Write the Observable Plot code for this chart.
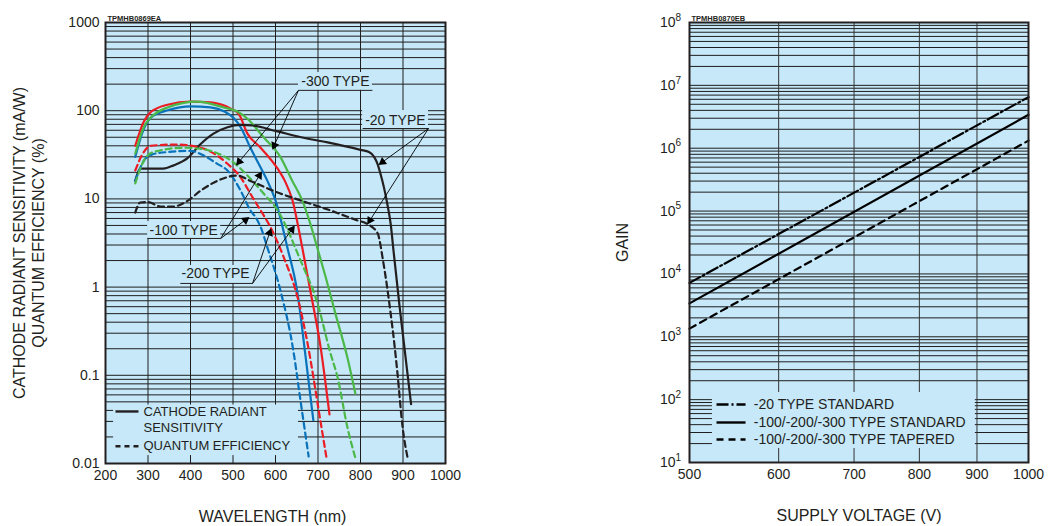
<!DOCTYPE html>
<html><head><meta charset="utf-8">
<script src="https://cdn.jsdelivr.net/npm/d3@7"></script>
<script src="https://cdn.jsdelivr.net/npm/@observablehq/plot@0.6"></script>
<style>
body{margin:0;background:#fff;font-family:"Liberation Sans",Arial,sans-serif}
#wrap{display:flex;width:1050px;height:526px}
#wrap>div{width:525px;height:526px}
</style></head><body><div id="wrap"><div id="left"></div><div id="right"></div></div>
<script>
// ---------- LEFT CHART DATA (wavelength nm, value) ----------
const crs100 = [[270,30],[290,62],[310,86],[346,101],[400,112],[447,109],[480,98],[501,83],[518,65],[541,38],[565,22.7],[581,16],[600,9.6],[628,2.8],[651,0.9],[671,0.16],[689,0.031]];
const crs200 = [[270,40],[290,75],[306,96],[346,117],[400,127],[447,124],[494,106],[513,93],[534,55],[565,38],[605,22],[622,16],[640,9.6],[663,2.8],[682,0.91],[706,0.21],[727,0.036]];
const crs300 = [[270,32.7],[290,65],[306,83],[346,109],[416,127],[478,109],[510,98],[534,81],[572,50],[612,29.6],[639,16.2],[663,9.6],[682,5.2],[698,2.83],[718,1.3],[741,0.5],[769,0.16],[788,0.062]];
const crs20  = [[270,16],[282,22],[336,22],[360,24],[393,29],[424,42],[454,55],[487,65],[518,69],[545,68],[600,59],[660,50],[720,44],[800,36],[820,34],[832,30],[840,25],[847,19.3],[855,13.6],[863,8.8],[871,5.2],[878,2.5],[892,0.6],[919,0.047]];
const qe100 = [[270,16],[290,27],[310,32],[346,34],[400,35],[431,31],[463,25],[487,21],[518,12.4],[541,7.4],[553,6.2],[565,4.8],[581,2.8],[612,0.9],[642,0.19],[659,0.051],[678,0.012]];
const qe200 = [[270,21],[290,34],[306,40],[369,41.4],[424,38],[463,31],[487,25],[518,17.5],[546,10.4],[565,7.4],[588,4.8],[619,2.2],[654,0.7],[674,0.25],[708,0.026],[720,0.0116]];
const qe300 = [[270,15],[290,27],[313,34],[384,38],[424,37],[463,33],[501,26],[534,18.4],[572,11.5],[605,7.4],[659,2],[699,0.65],[729,0.18],[746,0.095],[769,0.026],[788,0.0115]];
const qe20  = [[270,7],[282,9.1],[300,9.2],[329,8.2],[360,8.2],[393,9.5],[424,12.4],[463,16],[510,18.4],[541,16],[605,11.8],[659,9.6],[729,7.4],[793,5.7],[816,5.2],[840,4.1],[854,1.87],[871,0.5],[882,0.18],[887,0.105],[899,0.026],[911,0.0115]];

const wlTicks = [200,300,400,500,600,700,800,900,1000];
const sensTicks = [0.01,0.1,1,10,100,1000];
const sensTickLabels = ["0.01","0.1","1","10","100","1000"];

// ---------- RIGHT CHART DATA ----------
const voltage = [500,1000];
const gain20Std = [7.2e3, 6.5e6];
const gainStd = [3.4e3, 3.4e6];
const gainTapered = [1.35e3, 1.32e6];
const voltTicks = [500,600,700,800,900,1000];
const gainTicks = [1e1,1e2,1e3,1e4,1e5,1e6,1e7,1e8];
const gainExponents = ["1","2","3","4","5","6","7","8"];

// ---------- styles ----------
const BG = "#c6e8f8", GRID = "#1e1e1e", INK = "#231f20";
const RED = "#ec1c24", GREEN = "#4cb848", BLUE = "#0a72bb", BLACK = "#231f20";
const FONT = "'Liberation Sans', Arial, sans-serif";

const pts = a => a.map(([x,y]) => ({x, y}));
const logGrid = (n0, n1) => d3.range(n0, n1 + 1).flatMap(n => d3.range(1, 10).map(k => +(k * 10 ** n).toPrecision(3)));

// annotations for left chart (data coords)
const typeBoxes = [
  {x1:654,x2:828,y1:170,y2:271},
  {x1:805,x2:960,y1:62.8,y2:100.5},
  {x1:299,x2:471,y1:3.56,y2:5.54},
  {x1:376,x2:546,y1:1.1,y2:1.76},
  {x1:219,x2:654,y1:0.0123,y2:0.046}
];
const typeLabels = [
  {t:"-300 TYPE", x:741, y:214},
  {t:"-20 TYPE", x:882, y:77.5},
  {t:"-100 TYPE", x:384, y:4.38},
  {t:"-200 TYPE", x:459, y:1.43}
];
const underlines = [
  {x1:654,x2:828,y:170},
  {x1:805,x2:960,y:62.8},
  {x1:299,x2:471,y:3.56},
  {x1:376,x2:546,y:1.1}
];
const arrows = [
  {x1:654,y1:170,x2:511,y2:25.2},
  {x1:654,y1:170,x2:595,y2:38.3},
  {x1:960,y1:62.8,x2:847,y2:25.2},
  {x1:960,y1:62.8,x2:819,y2:5.4},
  {x1:471,y1:3.56,x2:565,y2:19.4},
  {x1:471,y1:3.56,x2:534,y2:6.0},
  {x1:546,y1:1.1,x2:588,y2:4.38},
  {x1:546,y1:1.1,x2:642,y2:4.74}
];

// same scales as the left plot, used to orient the filled arrowheads
const sx = Plot.scale({x: {domain: [200, 1000], range: [105, 445]}});
const sy = Plot.scale({y: {type: "log", domain: [0.01, 1000], range: [463, 22]}});
const heads = arrows.map(a => {
  const X1 = sx.apply(a.x1), Y1 = sy.apply(a.y1), X2 = sx.apply(a.x2), Y2 = sy.apply(a.y2);
  const t = Math.atan2(Y2 - Y1, X2 - X1);
  return {x: sx.invert(X2 - 2.5 * Math.cos(t)), y: sy.invert(Y2 - 2.5 * Math.sin(t)), rot: t * 180 / Math.PI + 90};
});

const series = [
  {d:crs100, c:BLUE, dash:null}, {d:crs200, c:RED, dash:null}, {d:crs300, c:GREEN, dash:null}, {d:crs20, c:BLACK, dash:null},
  {d:qe100, c:BLUE, dash:"6,4"}, {d:qe200, c:RED, dash:"6,4"}, {d:qe300, c:GREEN, dash:"6,4"}, {d:qe20, c:BLACK, dash:"6,4"}
];

const left = Plot.plot({
  width: 525, height: 526,
  marginLeft: 105, marginRight: 80, marginTop: 22, marginBottom: 63,
  style: {fontFamily: FONT, fontSize: "14px", background: "white", overflow: "visible", color: INK},
  x: {domain: [200, 1000]},
  y: {type: "log", domain: [0.01, 1000]},
  marks: [
    Plot.frame({fill: BG, stroke: null}),
    Plot.ruleY(logGrid(-2, 2), {stroke: GRID, strokeWidth: 1}),
    Plot.ruleX(wlTicks.slice(1, -1), {stroke: GRID, strokeWidth: 1}),
    Plot.rect(typeBoxes, {x1:"x1", x2:"x2", y1:"y1", y2:"y2", fill: BG}),
    ...series.map(s => Plot.line(pts(s.d), {x:"x", y:"y", stroke: s.c, strokeWidth: 2.2, strokeDasharray: s.dash, curve: "monotone-x"})),
    Plot.link(underlines, {x1:"x1", x2:"x2", y1:"y", y2:"y", stroke: INK, strokeWidth: 1}),
    Plot.link(arrows, {x1:"x1", y1:"y1", x2:"x2", y2:"y2", stroke: "#000", strokeWidth: 0.9}),
    Plot.dot(heads, {x:"x", y:"y", rotate:"rot", symbol:"triangle", r: 3.2, fill: "#000", stroke: null}),
    Plot.text(typeLabels, {x:"x", y:"y", text:"t", fontSize: 14, fill: INK}),
    // legend
    Plot.link([{y:0.0389}], {x1: () => 223.5, x2: () => 277.6, y1:"y", y2:"y", stroke: INK, strokeWidth: 2.4}),
    Plot.link([{y:0.0157}], {x1: () => 223.5, x2: () => 277.6, y1:"y", y2:"y", stroke: INK, strokeWidth: 2.4, strokeDasharray: "5,4"}),
    Plot.text([{t:"CATHODE RADIANT",y:0.0389},{t:"SENSITIVITY",y:0.0251},{t:"QUANTUM EFFICIENCY",y:0.0157}], {x: () => 289.4, y:"y", text:"t", textAnchor:"start", fontSize: 13, fill: INK}),
    Plot.frame({stroke: INK, strokeWidth: 2}),
    Plot.axisX({ticks: wlTicks, tickFormat: d => String(d), tickSize: 0, tickPadding: 7, fontSize: 14, label: null}),
    Plot.axisY({ticks: sensTicks, tickFormat: d => sensTickLabels[sensTicks.indexOf(d)], tickSize: 0, tickPadding: 6, fontSize: 14, label: null}),
    Plot.text(["TPMHB0869EA"], {frameAnchor: "top-left", dx: 2, dy: -7, fontSize: 7.5, fontWeight: "bold", textAnchor: "start", fill: INK}),
    Plot.text(["CATHODE RADIANT SENSITIVITY (mA/W)\nQUANTUM EFFICIENCY (%)"], {frameAnchor: "left", textAnchor: "middle", dx: -77.5, rotate: -90, fontSize: 16, lineHeight: 1.2, fill: INK}),
    Plot.text(["WAVELENGTH (nm)"], {frameAnchor: "bottom", textAnchor: "middle", dx: -3, dy: 58, fontSize: 16, fill: INK})
  ]
});
document.getElementById("left").append(left);

const gainSeries = [
  {v: gain20Std, dash: "12,3,2,3"},
  {v: gainStd, dash: null},
  {v: gainTapered, dash: "7,5"}
];

const right = Plot.plot({
  width: 525, height: 526,
  marginLeft: 164, marginRight: 22, marginTop: 22, marginBottom: 64,
  style: {fontFamily: FONT, fontSize: "14px", background: "white", overflow: "visible", color: INK},
  x: {type: "log", domain: [500, 1000]},
  y: {type: "log", domain: [10, 1e8], axis: null},
  marks: [
    Plot.frame({fill: BG, stroke: null}),
    Plot.ruleY(logGrid(1, 7), {stroke: GRID, strokeWidth: 1}),
    Plot.ruleX(voltTicks.slice(1, -1), {stroke: "#333", strokeWidth: 1}),
    Plot.rect([{x1:524,x2:897,y1:16.7,y2:130}], {x1:"x1", x2:"x2", y1:"y1", y2:"y2", fill: BG}),
    ...gainSeries.map(s => Plot.line(voltage.map((x, i) => ({x, y: s.v[i]})), {x:"x", y:"y", stroke: "#000", strokeWidth: 2.2, strokeDasharray: s.dash})),
    Plot.link([{y:83.8}], {x1: () => 528.4, x2: () => 560.7, y1:"y", y2:"y", stroke:"#000", strokeWidth: 2.4, strokeDasharray: "12,3,2,3"}),
    Plot.link([{y:43.3}], {x1: () => 528.4, x2: () => 560.7, y1:"y", y2:"y", stroke:"#000", strokeWidth: 2.4}),
    Plot.link([{y:23.2}], {x1: () => 528.4, x2: () => 560.7, y1:"y", y2:"y", stroke:"#000", strokeWidth: 2.4, strokeDasharray: "7,5"}),
    Plot.text([{t:"-20 TYPE STANDARD",y:83.8},{t:"-100/-200/-300 TYPE STANDARD",y:43.3},{t:"-100/-200/-300 TYPE TAPERED",y:23.2}], {x: () => 570.2, y:"y", text:"t", textAnchor:"start", fontSize: 14, fill: INK}),
    Plot.frame({stroke: INK, strokeWidth: 2}),
    Plot.axisX({ticks: voltTicks, tickFormat: d => String(d), tickSize: 0, tickPadding: 7, fontSize: 14, label: null}),
    Plot.text(gainTicks, {y: d => d, frameAnchor: "left", text: () => "10", textAnchor: "end", dx: -14, fontSize: 14, fill: INK}),
    Plot.text(gainTicks, {y: d => d, frameAnchor: "left", text: (d, i) => gainExponents[i], textAnchor: "start", dx: -14, dy: -5, fontSize: 10, fill: INK}),
    Plot.text(["TPMHB0870EB"], {frameAnchor: "top-left", dx: 2, dy: -7, fontSize: 7.5, fontWeight: "bold", textAnchor: "start", fill: INK}),
    Plot.text(["GAIN"], {frameAnchor: "left", textAnchor: "middle", dx: -67, rotate: -90, fontSize: 16, fill: INK}),
    Plot.text(["SUPPLY VOLTAGE (V)"], {frameAnchor: "bottom", textAnchor: "middle", dx: 0, dy: 58, fontSize: 16, fill: INK})
  ]
});
document.getElementById("right").append(right);
</script></body></html>
